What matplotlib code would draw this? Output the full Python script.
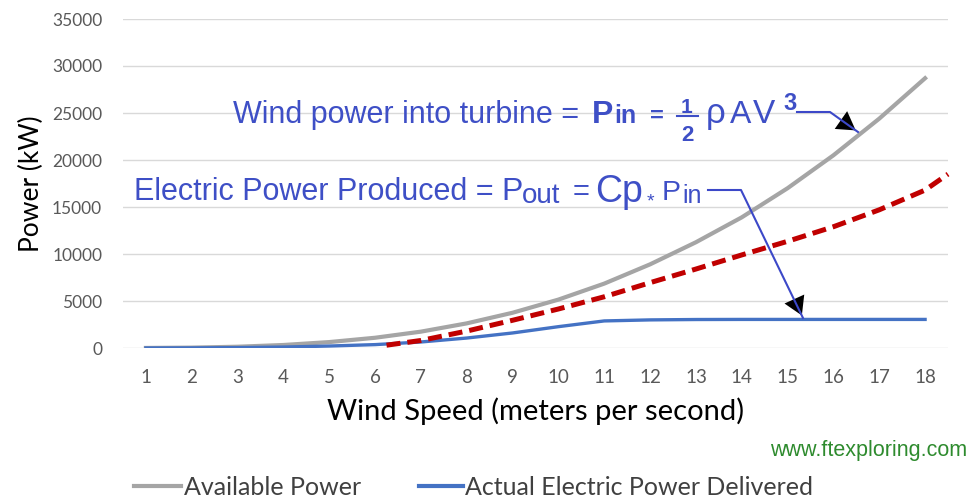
import matplotlib
matplotlib.use("Agg")
import matplotlib.pyplot as plt
from matplotlib.lines import Line2D
from matplotlib.patches import FancyArrowPatch

# ---- data ----
wind_speed = [1, 2, 3, 4, 5, 6, 7, 8, 9, 10, 11, 12, 13, 14, 15, 16, 17, 18]
available_power = [5, 40, 135, 320, 630, 1090, 1740, 2620, 3750, 5150, 6850,
                   8900, 11250, 13900, 17000, 20500, 24400, 28700]
actual_power = [0, 10, 40, 100, 210, 360, 640, 1060, 1600, 2270, 2880,
                2990, 3030, 3040, 3040, 3040, 3040, 3040]
betz_speed = [6.25, 7, 8, 9, 10, 11, 12, 13, 14, 15, 16, 17, 18, 18.5]
betz_power = [300, 800, 1800, 2950, 4150, 5450, 6950, 8400, 9900, 11350,
              12900, 14700, 16800, 18500]
y_ticks = [0, 5000, 10000, 15000, 20000, 25000, 30000, 35000]
legend_labels = ["Available Power", "Actual Electric Power Delivered"]

W, H = 969, 498
fig = plt.figure(figsize=(W / 100, H / 100), dpi=100)
fig.patch.set_facecolor("white")


def fx(x):
    return x / W


def fy(y):
    return 1 - y / H


ax = fig.add_axes([fx(123), fy(348), (948 - 123) / W, (348 - 19) / H])
ax.set_xlim(0.5, 18.5)
ax.set_ylim(0, 35000)
ax.set_yticks(y_ticks)
ax.set_xticks(wind_speed)
ax.set_xticklabels([str(v) for v in wind_speed])
ax.yaxis.grid(True, color="#D9D9D9", lw=1)
ax.set_axisbelow(True)
for s in ax.spines.values():
    s.set_visible(False)
ax.tick_params(axis="both", length=0, colors="#595959")
ax.tick_params(axis="y", pad=15, labelsize=12.5)
ax.tick_params(axis="x", pad=15, labelsize=13.5)
for lab in ax.get_yticklabels() + ax.get_xticklabels():
    lab.set_fontfamily(["Lato", "DejaVu Sans"])

ax.plot(wind_speed, available_power, color="#A5A5A5", lw=3)
ax.plot(wind_speed, actual_power, color="#4472C4", lw=2.4)
ax.plot(betz_speed, betz_power, color="#C00000", lw=3.6,
        linestyle=(0, (2.8, 1.4)), clip_on=False, solid_capstyle="butt")

ax.set_ylabel("Power (kW)", fontsize=19, family=["Lato", "DejaVu Sans"],
              color="black", labelpad=6)
ax.set_xlabel("Wind Speed (meters per second)", fontsize=21,
              family=["Lato", "DejaVu Sans"], color="black", labelpad=8)

blue = "#3E4FC6"
af = ["Liberation Sans", "DejaVu Sans"]


def t(x, y, s, size, **kw):
    fig.text(fx(x), fy(y), s, fontsize=size, color=kw.pop("color", blue),
             family=kw.pop("family", af), ha=kw.pop("ha", "left"),
             va=kw.pop("va", "baseline"), **kw)


# annotation 1
t(233, 123, "Wind power into turbine =", 22)
t(592, 123, "P", 23, weight="bold")
t(614, 123, "in", 18, weight="bold")
t(650, 123, "=", 17, weight="bold")
t(687, 113, "1", 15, weight="bold", ha="center")
fig.add_artist(Line2D([fx(677), fx(698)], [fy(116), fy(116)], color=blue, lw=1.5))
t(687, 141, "2", 16, weight="bold", ha="center")
t(706, 123, "\u03c1", 25)
t(730, 123, "A", 23)
t(753, 123, "V", 24)
t(783, 110, "3", 17, weight="bold")

# annotation 2
t(134, 200, "Electric Power Produced =", 22)
t(501, 200, "P", 23)
t(522, 203, "out", 20)
t(573, 200, "=", 21)
t(595, 202, "Cp", 27)
t(647, 206, "*", 14)
t(662, 200, "P", 20.5)
t(682, 203, "in", 18)

# arrows
def poly(xs, ys, tip_from):
    fig.add_artist(Line2D([fx(x) for x in xs], [fy(y) for y in ys],
                          color="#3C48C8", lw=1.5))
    fig.add_artist(FancyArrowPatch(
        (fx(tip_from[0]), fy(tip_from[1])), (fx(xs[-1]), fy(ys[-1])),
        transform=fig.transFigure, arrowstyle="-|>,head_length=5,head_width=3",
        color="black", lw=0, mutation_scale=2.6))


poly([797, 830, 858], [112, 112, 132], (848, 125))
poly([708, 741, 803], [190, 190, 318], (798, 307))

# website
t(967, 456, "www.ftexploring.com", 15.5, color="#2E8B2E", ha="right",
  family=["Liberation Sans", "DejaVu Sans"])

# legend
lf = ["Lato", "DejaVu Sans"]
fig.add_artist(Line2D([fx(134), fx(181)], [fy(486), fy(486)], color="#A5A5A5", lw=3))
t(184, 487, legend_labels[0], 18, color="#404040", va="center", family=lf)
fig.add_artist(Line2D([fx(419), fx(463)], [fy(486), fy(486)], color="#4472C4", lw=3))
t(465, 487, legend_labels[1], 18, color="#404040", va="center", family=lf)

fig.savefig("out.png", dpi=100, facecolor="white")
